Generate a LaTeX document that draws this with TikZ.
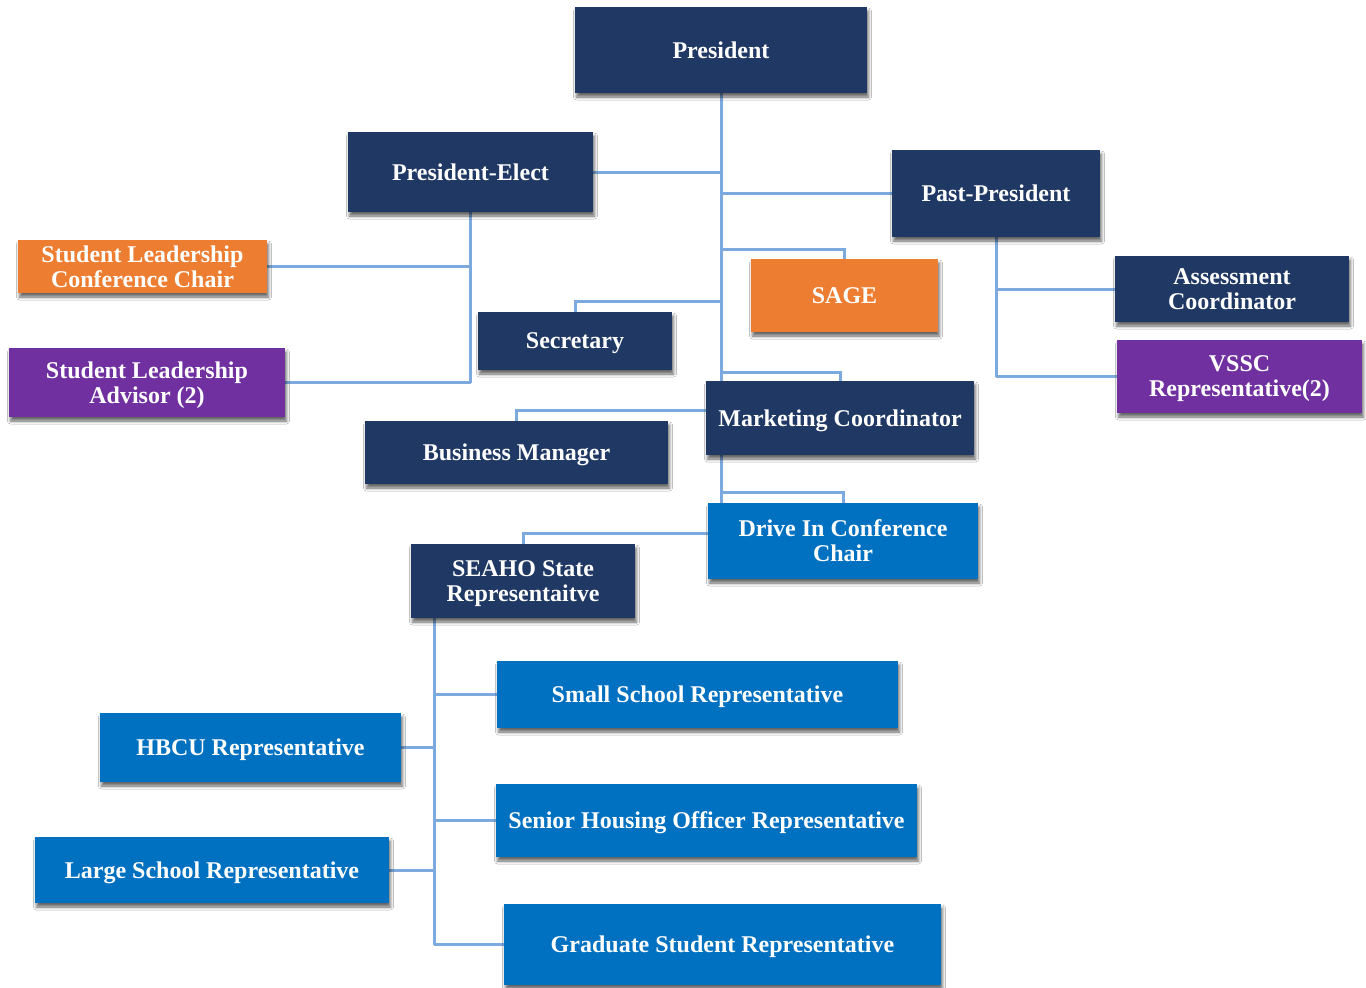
\documentclass[tikz,border=0pt]{standalone}
\usepackage{fontspec}
\setmainfont{Liberation Serif}
\usetikzlibrary{shadows.blur,backgrounds}
\definecolor{navy}{RGB}{32,56,100}
\definecolor{orgorange}{RGB}{237,125,49}
\definecolor{orgpurple}{RGB}{112,48,160}
\definecolor{orgblue}{RGB}{0,112,192}
\definecolor{linkblue}{RGB}{125,170,222}
\tikzset{
  box/.style={rectangle, inner sep=0pt, outer sep=0pt, text=white, align=center,
    text depth=0pt,
    font=\bfseries\fontsize{24}{25}\selectfont,
    blur shadow={shadow xshift=1.5pt, shadow yshift=-4pt, shadow blur radius=3pt, shadow opacity=60}},
  navybox/.style={box, fill=navy},
  orangebox/.style={box, fill=orgorange},
  purplebox/.style={box, fill=orgpurple},
  bluebox/.style={box, fill=orgblue},
  conn/.style={draw=linkblue, line width=3pt}
}
\begin{document}
\begin{tikzpicture}[x=1pt,y=1pt]
\useasboundingbox (0,0) rectangle (1366,-988);

% executive board
\node[navybox, minimum width=292pt, minimum height=86pt] (pres) at (721,-50) {President};
\node[navybox, minimum width=245pt, minimum height=80pt] (pe) at (470.5,-172) {President-Elect};
\node[navybox, minimum width=208pt, minimum height=87pt] (pp) at (996,-193.5) {Past-President};
\node[orangebox, minimum width=249pt, minimum height=53pt] (slcc) at (142.5,-266.5) {Student Leadership\\Conference Chair};
\node[orangebox, minimum width=187pt, minimum height=73pt] (sage) at (844.5,-295.5) {SAGE};
\node[navybox, minimum width=194pt, minimum height=58pt] (sec) at (575,-341) {Secretary};
\node[purplebox, minimum width=276pt, minimum height=69pt] (sla) at (147,-382.5) {Student Leadership\\Advisor (2)};
\node[navybox, minimum width=234pt, minimum height=66pt] (ac) at (1232,-289) {Assessment\\Coordinator};
\node[purplebox, minimum width=245pt, minimum height=73pt] (vssc) at (1239.5,-376.5) {VSSC\\Representative(2)};
\node[navybox, minimum width=268pt, minimum height=74pt] (mkt) at (840,-418) {Marketing Coordinator};
\node[navybox, minimum width=303pt, minimum height=63pt] (bm) at (516.5,-452.5) {Business Manager};
\node[bluebox, minimum width=270pt, minimum height=76pt] (drive) at (843,-541) {Drive In Conference\\Chair};
\node[navybox, minimum width=224pt, minimum height=74pt] (seaho) at (523,-581) {SEAHO State\\Representaitve};

% state representatives
\node[bluebox, minimum width=401pt, minimum height=67pt] (small) at (697.5,-694.5) {Small School Representative};
\node[bluebox, minimum width=301pt, minimum height=69pt] (hbcu) at (250.5,-747.5) {HBCU Representative};
\node[bluebox, minimum width=421pt, minimum height=73pt] (sho) at (706.5,-820.5) {Senior Housing Officer Representative};
\node[bluebox, minimum width=354pt, minimum height=66pt] (large) at (212,-870) {Large School Representative};
\node[bluebox, minimum width=437pt, minimum height=81pt] (grad) at (722.5,-944.5) {Graduate Student Representative};

\coordinate (sx) at (434,-618);

\begin{pgfonlayer}{background}
  \fill[white] (0,0) rectangle (1366,-988);
  % main trunk
  \draw[conn] (pres.south) -- (pres.south |- drive.north);
  \draw[conn] (pres.south |- pe.east) -- (pe.east);
  \draw[conn] (pres.south |- pp.west) -- (pp.west);
  \draw[conn] (pres.south |- 0,-249) -| (sage.north);
  \draw[conn] (pres.south |- 0,-301) -| (sec.north);
  \draw[conn] (pres.south |- 0,-372) -| (mkt.north);
  \draw[conn] (pres.south |- 0,-410) -| (bm.north);
  \draw[conn] (pres.south |- 0,-492) -| (drive.north);
  \draw[conn] (pres.south |- 0,-533) -| (seaho.north);
  % president-elect
  \draw[conn] (pe.south) -- (pe.south |- sla.east);
  \draw[conn] (pe.south |- slcc.east) -- (slcc.east);
  \draw[conn] (pe.south |- sla.east) -- (sla.east);
  % past-president
  \draw[conn] (pp.south) -- (pp.south |- vssc.west);
  \draw[conn] (pp.south |- ac.west) -- (ac.west);
  \draw[conn] (pp.south |- vssc.west) -- (vssc.west);
  % SEAHO state representative
  \draw[conn] (sx) -- (sx |- grad.west);
  \draw[conn] (sx |- small.west) -- (small.west);
  \draw[conn] (sx |- hbcu.east) -- (hbcu.east);
  \draw[conn] (sx |- sho.west) -- (sho.west);
  \draw[conn] (sx |- large.east) -- (large.east);
  \draw[conn] (sx |- grad.west) -- (grad.west);
\end{pgfonlayer}
\end{tikzpicture}
\end{document}
